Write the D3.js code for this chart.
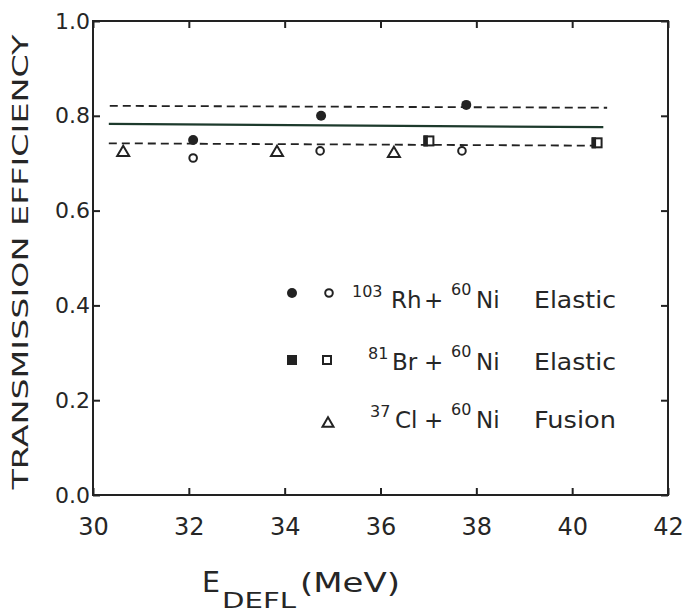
<!DOCTYPE html>
<html>
<head>
<meta charset="utf-8">
<style>
body { margin: 0; background: #fff; }
text { font-family: "DejaVu Sans", sans-serif; fill: #262626; }
</style>
</head>
<body>
<script src="https://d3js.org/d3.v7.min.js"></script>
<script>

// data
var rhFilled = [[32.09, 0.749], [34.76, 0.800], [37.79, 0.823]];
var rhOpen   = [[32.09, 0.711], [34.74, 0.726], [37.70, 0.726]];
var brPoints = [[37.01, 0.747], [40.52, 0.743]];
var clPoints = [[30.63, 0.726], [33.84, 0.726], [36.28, 0.724]];

// reference lines: start/end energy and efficiency
var lineNames = ["upper", "mean", "lower"];
var lineX = [[30.35, 40.73], [30.33, 40.65], [30.33, 40.45]];
var lineY = [[0.821, 0.817], [0.783, 0.776], [0.742, 0.737]];

var xTicks = [30, 32, 34, 36, 38, 40, 42];
var yTicks = [0.0, 0.2, 0.4, 0.6, 0.8, 1.0];

var width = 683,
    height = 612,
    padL = 93, padR = 668, padT = 21, padB = 495;

var x = d3.scaleLinear().domain([30, 42]).range([padL, padR]);
var y = d3.scaleLinear().domain([0, 1]).range([padB, padT]);

var svg = d3.select("body").append("svg")
    .attr("width", width)
    .attr("height", height);

var ink = "#222";

// axes, ticks point inward
var gx = svg.append("g")
    .attr("transform", "translate(0," + padB + ")")
    .call(d3.axisBottom(x).tickValues(xTicks).tickSizeInner(-7).tickSizeOuter(0).tickPadding(23)
      .tickFormat(d3.format("d")));
gx.selectAll("text").style("font-size", "24px").attr("fill", "#262626");

var gy = svg.append("g")
    .attr("transform", "translate(" + padL + ",0)")
    .call(d3.axisLeft(y).tickValues(yTicks).tickSizeInner(-7).tickSizeOuter(0).tickPadding(3)
      .tickFormat(d3.format(".1f")));
gy.selectAll("text").style("font-size", "22px").attr("fill", "#262626");

svg.append("g")
    .attr("transform", "translate(0," + padT + ")")
    .call(d3.axisTop(x).tickValues(xTicks).tickSizeInner(-7).tickSizeOuter(0).tickFormat(""));

svg.append("g")
    .attr("transform", "translate(" + padR + ",0)")
    .call(d3.axisRight(y).tickValues(yTicks).tickSizeInner(-7).tickSizeOuter(0).tickFormat(""));

svg.selectAll(".domain").remove();
svg.selectAll(".tick line").attr("stroke", ink).attr("stroke-width", 2);

svg.append("rect")
    .attr("x", padL).attr("y", padT)
    .attr("width", padR - padL).attr("height", padB - padT)
    .attr("fill", "none").attr("stroke", ink).attr("stroke-width", 2);

// horizontal lines
svg.selectAll(".ref")
    .data(lineNames)
  .enter().append("line")
    .attr("class", "ref")
    .attr("x1", (d, i) => x(lineX[i][0]))
    .attr("x2", (d, i) => x(lineX[i][1]))
    .attr("y1", (d, i) => y(lineY[i][0]))
    .attr("y2", (d, i) => y(lineY[i][1]))
    .attr("stroke", d => d == "mean" ? "#1d3a2c" : ink)
    .attr("stroke-width", d => d == "mean" ? 2.2 : 1.8)
    .attr("stroke-dasharray", d => d == "mean" ? null : "8,5");

// symbols
function tri(cx, cy, s) {
  var h = s * 0.85;
  return "M" + cx + "," + (cy - h / 2) + "L" + (cx + s / 2) + "," + (cy + h / 2) + "L" + (cx - s / 2) + "," + (cy + h / 2) + "Z";
}

svg.selectAll(".rhf")
    .data(rhFilled)
  .enter().append("circle")
    .attr("cx", d => x(d[0])).attr("cy", d => y(d[1]))
    .attr("r", 5).attr("fill", ink);

svg.selectAll(".rho")
    .data(rhOpen)
  .enter().append("circle")
    .attr("cx", d => x(d[0])).attr("cy", d => y(d[1]))
    .attr("r", 3.8).attr("fill", "#fff").attr("stroke", ink).attr("stroke-width", 2);

var br = svg.selectAll(".br")
    .data(brPoints)
  .enter().append("g");
br.append("rect")
    .attr("x", d => x(d[0]) - 4.5).attr("y", d => y(d[1]) - 4.5)
    .attr("width", 9).attr("height", 9)
    .attr("fill", "#fff").attr("stroke", ink).attr("stroke-width", 2);
br.append("rect")
    .attr("x", d => x(d[0]) - 5.5).attr("y", d => y(d[1]) - 5.5)
    .attr("width", 4.5).attr("height", 11)
    .attr("fill", ink);

svg.selectAll(".cl")
    .data(clPoints)
  .enter().append("path")
    .attr("d", d => tri(x(d[0]), y(d[1]), 12))
    .attr("fill", "#fff").attr("stroke", ink).attr("stroke-width", 2);

// legend
var legRows = [
  { mass: "103", el: "Rh", reac: "Elastic", filled: "circle", open: "circle", sym: 293, base: 308, massX: 352, elX: 391 },
  { mass: "81", el: "Br", reac: "Elastic", filled: "square", open: "square", sym: 360, base: 370, massX: 368, elX: 392 },
  { mass: "37", el: "Cl", reac: "Fusion", filled: null, open: "triangle", sym: 422, base: 428, massX: 370, elX: 395 }
];

var leg = svg.append("g");
legRows.forEach(function(r) {
  if (r.filled == "circle") leg.append("circle").attr("cx", 292).attr("cy", r.sym).attr("r", 5).attr("fill", ink);
  if (r.filled == "square") leg.append("rect").attr("x", 287).attr("y", r.sym - 5).attr("width", 10).attr("height", 10).attr("fill", ink);
  if (r.open == "circle") leg.append("circle").attr("cx", 329).attr("cy", r.sym).attr("r", 3.8)
      .attr("fill", "none").attr("stroke", ink).attr("stroke-width", 2);
  if (r.open == "square") leg.append("rect").attr("x", 323).attr("y", r.sym - 4).attr("width", 8).attr("height", 8)
      .attr("fill", "none").attr("stroke", ink).attr("stroke-width", 2);
  if (r.open == "triangle") leg.append("path").attr("d", tri(328, r.sym, 11))
      .attr("fill", "none").attr("stroke", ink).attr("stroke-width", 2);

  leg.append("text").attr("x", r.massX).attr("y", r.base - 11).style("font-size", "16px").text(r.mass);
  leg.append("text").attr("x", r.elX).attr("y", r.base).style("font-size", "23px").text(r.el);
  leg.append("text").attr("x", 424).attr("y", r.base).style("font-size", "23px").text("+");
  leg.append("text").attr("x", 451).attr("y", r.base - 13).style("font-size", "16px").text("60");
  leg.append("text").attr("x", 476).attr("y", r.base).style("font-size", "23px").text("Ni");
  leg.append("text").attr("x", 534).attr("y", r.base).style("font-size", "23px")
      .attr("textLength", 82).attr("lengthAdjust", "spacingAndGlyphs").text(r.reac);
});

// axis titles
svg.append("text")
    .attr("transform", "translate(28,262) rotate(-90)")
    .attr("text-anchor", "middle")
    .style("font-size", "21px")
    .attr("textLength", 455).attr("lengthAdjust", "spacingAndGlyphs")
    .text("TRANSMISSION EFFICIENCY");

svg.append("text").attr("x", 202).attr("y", 592).style("font-size", "29px")
    .attr("textLength", 18).attr("lengthAdjust", "spacingAndGlyphs").text("E");
svg.append("text").attr("x", 222).attr("y", 608).style("font-size", "22px")
    .attr("textLength", 74).attr("lengthAdjust", "spacingAndGlyphs").text("DEFL");
svg.append("text").attr("x", 300).attr("y", 592).style("font-size", "26px")
    .attr("textLength", 100).attr("lengthAdjust", "spacingAndGlyphs").text("(MeV)");

</script>
</body>
</html>
